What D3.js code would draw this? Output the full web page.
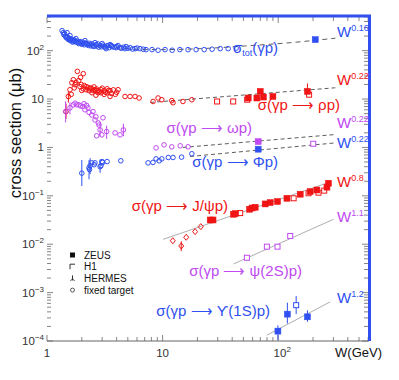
<!DOCTYPE html>
<html lang="en">
<head>
<meta charset="UTF-8">
<title>Photoproduction cross sections</title>
<script src="https://d3js.org/d3.v7.min.js"></script>
<style>
    body { margin: 0; background: #fff; }
    text { font-family: "Liberation Sans", Arial, sans-serif; }
    .tick-label { font-size: 11.5px; fill: #333; }
    .proc { font-size: 15px; }
    .legend text { font-size: 10px; fill: #111; }
</style>
</head>
<body>
<div id="chart"></div>
<script>
// ---- data: [W (GeV), sigma (microbarn)] ----
const totFT = [[1.35,259],[1.38,235],[1.40,214],[1.42,225],[1.44,200],[1.46,195],[1.47,185],[1.49,235],
    [1.50,190],[1.52,177],[1.53,170],[1.55,182],[1.58,169],[1.58,205],[1.60,160],[1.62,175],[1.65,161],
    [1.67,150],[1.70,158],[1.71,169],[1.73,162],[1.75,154],[1.78,177],[1.80,150],[1.83,158],[1.86,146],
    [1.88,140],[1.93,154],[1.95,145],[2.00,135],[2.02,150],[2.05,140],[2.10,132],[2.13,161],[2.15,145],
    [2.18,140],[2.22,135],[2.28,128],[2.32,142],[2.36,133],[2.40,125],[2.45,138],[2.50,127],[2.55,122],
    [2.60,146],[2.66,133],[2.70,125],[2.75,138],[2.80,118],[2.88,127],[2.95,120],[3.00,140],[3.05,130],
    [3.12,121],[3.20,117],[3.24,110],[3.30,125],[3.37,127],[3.45,115],[3.51,133],[3.60,128],[3.65,121],
    [3.80,118],[3.96,115],[4.00,122],[4.12,127],[4.29,115],[4.40,112],[4.60,118],[4.73,110],[4.83,121],
    [5.00,112],[5.24,115],[5.50,108],[5.78,110],[6.00,113],[6.38,110],[6.80,107],[7.19,105],[8.10,105],
    [9.13,102],[10.5,105],[12.1,102],[14.1,105],[16.6,105],[19.5,105],[22.9,105],[26.8,107],[31.5,110],
    [36.9,110],[43.3,113]];
const totZEUS = [[209,169]];
const totFit = [[1.93,140],[2.88,124],[4.93,110],[9.5,105],[21.1,110],[57,127],[127,146],[312,181]];

const rhoFT = [[1.46,5.5],[1.53,11.3],[1.58,15.6],[1.62,12.5],[1.64,21.7],[1.69,25.1],[1.72,17],[1.75,19.8],
    [1.78,22],[1.83,37.3],[1.88,24],[1.93,18],[1.95,28],[1.98,20],[2.00,15],[2.06,33.4],[2.06,16.3],
    [2.10,19],[2.18,18],[2.18,15.6],[2.25,17.5],[2.31,16.3],[2.31,14.9],[2.38,17],[2.45,16.3],[2.45,13.5],
    [2.50,15],[2.55,17.8],[2.60,15.6],[2.60,14.9],[2.65,12],[2.68,16.2],[2.76,14.9],[2.76,13.5],[2.85,14.2],
    [2.93,15.6],[2.93,13.5],[3.00,16.8],[3.12,14.9],[3.12,12.5],[3.20,13.8],[3.31,16.3],[3.31,13.5],
    [3.40,15],[3.51,14.9],[3.51,11.3],[3.60,13],[3.75,15.5],[3.90,12.5],[4.00,13.8],[4.12,15.6],[4.73,11.3],
    [5.23,11.3],[5.78,11.3],[6.26,10.5],[8.27,8.9],[9.14,10.5],[9.84,9.67],[12.0,9.3],[12.3,8.4],[15.0,8.9],
    [17.9,9.67]];
const rhoH1 = [[29.6,8.9],[40.8,8.9],[53.9,9.7],[185,12.3]];
const rhoZEUS = [[55,10.5],[65.4,10.5],[69.9,14.4],[74.5,11.0],[90,11.3],[179,14.4]];
const rhoFit = [[7.8,8.5],[312,17.1]];

const omegaFT = [[1.45,5.5],[1.58,6.6],[1.69,7.6],[1.75,8.2],[1.81,7.6],[1.89,7.6],[1.95,7.2],[2.04,7.0],
    [2.09,8.0],[2.13,6.0],[2.20,7.4],[2.26,6.6],[2.31,5.3],[2.44,4.7],[2.50,5.5],[2.60,3.7],[2.65,4.3],
    [2.69,1.74],[2.78,3.2],[2.82,2.9],[2.88,2.3],[2.98,1.82],[3.05,4.1],[3.28,2.13],[3.88,2.0],[4.28,1.82],
    [4.58,2.3],[8.78,0.98],[10.3,1.13],[12.0,1.03],[14.2,1.08],[16.6,1.03]];
const omegaZEUS = [[67.1,1.32]];
const omegaH1 = [[201,1.19]];
const omegaFit = [[15.0,1.0],[312,1.85]];

const phiFT = [[2.0,0.294],[2.31,0.378],[2.33,0.35],[2.36,0.42],[2.44,0.48],[2.56,0.44],[2.60,0.48],
    [2.88,0.40],[2.93,0.42],[2.99,0.51],[3.03,0.49],[3.31,0.51],[4.35,0.53],
    [7.49,0.48],[8.25,0.49],[8.78,0.58],[9.34,0.53],[9.84,0.58],[11.2,0.62],[12.3,0.62],[14.6,0.63],[17.9,0.74]];
const phiZEUS = [[67.1,0.92]];
const phiFit = [[17.3,0.65],[312,1.24]];

const jpsiFT = [[12.25,0.0118],[14.5,0.0092],[16.0,0.0139],[19.1,0.0182],[21.4,0.0231]];
const jpsiZEUS = [[25.8,0.0317],[27.3,0.0317],[41.0,0.0416],[42.8,0.043],[56.5,0.0528],[59.4,0.056],[63.2,0.058],
    [77.1,0.068],[85.3,0.0725],[98.6,0.0763],[119,0.089],[155,0.108],[189,0.122],[216,0.132],[264,0.151],[272,0.182]];
const jpsiH1 = [[46.9,0.044],[136,0.089],[183,0.113],[223,0.116],[250,0.128]];
const jpsiFit = [[10.1,0.0126],[282,0.194]];

const psi2sH1 = [[53.6,0.00525],[79.8,0.0089],[98.6,0.0089],[127,0.0148]];
const psi2sFit = [[41.0,0.0039],[301,0.0328]];

const upsZEUS = [[99.4,0.000160],[120,0.000359],[179,0.000316]];
const upsH1 = [[143,0.00055]];
const upsFit = [[79.8,0.000132],[282,0.000645]];

// error bars: [colour, W, low, high]
const errBars = [
    ["red", 1.46, 3.9, 8.0], ["red", 1.53, 8.5, 14], ["red", 179, 11.5, 21],
    ["violet", 1.45, 3.3, 9.0], ["violet", 1.58, 4.8, 8.6], ["violet", 2.88, 1.7, 3.2],
    ["violet", 4.58, 1.7, 3.1], ["violet", 3.28, 1.5, 2.8], ["violet", 67.1, 1.2, 1.5],
    ["blue", 2.0, 0.16, 0.55], ["blue", 2.31, 0.22, 0.55], ["blue", 2.36, 0.28, 0.6],
    ["blue", 2.88, 0.3, 0.56], ["blue", 67.1, 0.84, 1.02],
    ["red", 14.5, 0.0072, 0.0115],
    ["blue", 99.4, 0.000105, 0.00021], ["blue", 120, 0.00023, 0.00062],
    ["blue", 179, 0.00025, 0.00043], ["blue", 143, 0.00036, 0.00085]
];

const xTickVals = [1, 10, 100];
const yTickVals = [1e-4, 1e-3, 1e-2, 1e-1, 1, 10, 100];

// ---- chart ----
const width = 399, height = 380;
const col = { blue: "#2f4ff0", red: "#f01414", violet: "#c049f2" };

const x = d3.scaleLog().domain([1, 610]).range([47, 369]);
const y = d3.scaleLog().domain([1e-4, 520]).range([341, 16]);

const svg = d3.select("#chart").append("svg")
    .attr("width", width).attr("height", height);

// minor tick positions
const minorX = [];
for (let d = 1; d <= 100; d *= 10) for (let k = 1; k <= 9; k++) if (d * k <= 600) minorX.push(d * k);
const minorY = [];
for (let d = 1e-4; d < 500; d *= 10) for (let k = 1; k <= 9; k++) if (d * k <= 500) minorY.push(d * k);
const isMajor = v => Math.abs(Math.log10(v) - Math.round(Math.log10(v))) < 1e-6;

const ticks = svg.append("g").attr("stroke", "#666").attr("stroke-width", 0.8);
minorX.forEach(v => {
    const L = isMajor(v) ? 6 : 4;
    ticks.append("line").attr("x1", x(v)).attr("x2", x(v)).attr("y1", 341).attr("y2", 341 - L);
    ticks.append("line").attr("x1", x(v)).attr("x2", x(v)).attr("y1", 17).attr("y2", 17 + L);
});
minorY.forEach(v => {
    const L = isMajor(v) ? 6 : 4;
    ticks.append("line").attr("x1", 47).attr("x2", 47 + L).attr("y1", y(v)).attr("y2", y(v));
    ticks.append("line").attr("x1", 368).attr("x2", 368 - L).attr("y1", y(v)).attr("y2", y(v));
});

// bottom axis line and blue frame
svg.append("line").attr("x1", 47).attr("x2", 369).attr("y1", 341).attr("y2", 341)
    .attr("stroke", "#666").attr("stroke-width", 1);
svg.append("path").attr("d", `M47,16H369.5V341`).attr("fill", "none")
    .attr("stroke", col.blue).attr("stroke-width", 3);

// tick labels
const sup = (sel, base, exp) => {
    sel.append("tspan").text(base);
    if (exp !== null) sel.append("tspan").attr("dy", -5).attr("font-size", "8px").text(exp);
};
xTickVals.forEach(v => {
    const e = Math.round(Math.log10(v));
    const t = svg.append("text").attr("class", "tick-label").attr("x", x(v) + (e === 2 ? 4 : 0)).attr("y", 357)
        .attr("text-anchor", "middle");
    if (e === 0) sup(t, "1", null); else if (e === 1) sup(t, "10", null); else sup(t, "10", String(e));
});
yTickVals.forEach(v => {
    const e = Math.round(Math.log10(v));
    const t = svg.append("text").attr("class", "tick-label").attr("x", 44).attr("y", y(v) + 4)
        .attr("text-anchor", "end");
    if (e === 0) sup(t, "1", null);
    else if (e === 1) sup(t, "10", null);
    else sup(t, "10", e < 0 ? "\u2212" + (-e) : String(e));
});

svg.append("text").attr("transform", "translate(21,133) rotate(-90)").attr("text-anchor", "middle")
    .attr("font-size", "16.5px").attr("fill", "#111").text("cross section (\u03bcb)");
svg.append("text").attr("x", 382).attr("y", 357).attr("text-anchor", "end")
    .attr("font-size", "13px").attr("fill", "#111").text("W(GeV)");

// fit lines
const line = d3.line().x(d => x(d[0])).y(d => y(d[1])).curve(d3.curveMonotoneX);
const fits = [
    [totFit, "#333", "5,4"], [rhoFit, "#333", "4,3"], [omegaFit, "#333", "4,3"], [phiFit, "#333", "4,3"],
    [jpsiFit, "#999", null], [psi2sFit, "#999", null], [upsFit, "#999", null]
];
fits.forEach(([data, c, dash]) => {
    svg.append("path").attr("d", line(data)).attr("fill", "none").attr("stroke", c)
        .attr("stroke-width", 0.8).attr("stroke-dasharray", dash);
});

// error bars
svg.append("g").selectAll("line").data(errBars).join("line")
    .attr("x1", d => x(d[1])).attr("x2", d => x(d[1]))
    .attr("y1", d => y(d[2])).attr("y2", d => y(d[3]))
    .attr("stroke", d => col[d[0]]).attr("stroke-width", 1);

// markers
function circles(data, c) {
    svg.append("g").selectAll("circle").data(data).join("circle")
        .attr("cx", d => x(d[0])).attr("cy", d => y(d[1])).attr("r", 2.3)
        .attr("fill", "none").attr("stroke", c).attr("stroke-width", 1);
}
function squares(data, c, filled) {
    const s = filled ? 6 : 5;
    svg.append("g").selectAll("rect").data(data).join("rect")
        .attr("x", d => x(d[0]) - s / 2).attr("y", d => y(d[1]) - s / 2)
        .attr("width", s).attr("height", s)
        .attr("fill", filled ? c : "#fff").attr("stroke", c).attr("stroke-width", filled ? 0.5 : 1);
}
circles(totFT, col.blue); squares(totZEUS, col.blue, true);
circles(rhoFT, col.red); squares(rhoH1, col.red, false); squares(rhoZEUS, col.red, true);
circles(omegaFT, col.violet); squares(omegaH1, col.violet, false); squares(omegaZEUS, col.violet, true);
circles(phiFT, col.blue); squares(phiZEUS, col.blue, true);
svg.append("g").selectAll("path").data(jpsiFT).join("path")
    .attr("d", d => `M${x(d[0])},${y(d[1]) - 3}l2.5,3l-2.5,3l-2.5,-3z`)
    .attr("fill", "none").attr("stroke", col.red).attr("stroke-width", 1);
squares(jpsiH1, col.red, false); squares(jpsiZEUS, col.red, true);
squares(psi2sH1, col.violet, false);
squares(upsH1, col.blue, false); squares(upsZEUS, col.blue, true);

// process labels (anchored at their right end)
const arrow = " \u27f6 ";
function label(xp, yp, c, parts, anchor) {
    const t = svg.append("text").attr("class", "proc").attr("x", xp).attr("y", yp).attr("fill", c)
        .attr("text-anchor", anchor || "end");
    parts.forEach(p => {
        if (typeof p === "string") t.append("tspan").text(p);
        else t.append("tspan").attr("dy", p.dy).attr("font-size", p.size).text(p.t);
    });
}
label(278, 53, col.blue, ["\u03c3", { t: "tot", dy: 3, size: "9px" }, { t: "(\u03b3p)", dy: -3, size: "15px" }]);
label(340, 110, col.red, ["\u03c3(\u03b3p" + arrow + "\u03c1p)"]);
label(252, 133, col.violet, ["\u03c3(\u03b3p" + arrow + "\u03c9p)"]);
label(278, 167, col.blue, ["\u03c3(\u03b3p" + arrow + "\u03a6p)"]);
label(228, 211, col.red, ["\u03c3(\u03b3p" + arrow + "J/\u03c8p)"]);
label(302, 276, col.violet, ["\u03c3(\u03b3p" + arrow + "\u03c8(2S)p)"]);
label(270, 316, col.blue, ["\u03c3(\u03b3p" + arrow + "\u03d2(1S)p)"]);

const powers = [[37, col.blue, "0.16"], [85, col.red, "0.22"], [128, col.violet, "0.22"],
    [148, col.blue, "0.22"], [187, col.red, "0.8"], [222, col.violet, "1.1"], [303, col.blue, "1.2"]];
powers.forEach(([yp, c, e]) => label(337, yp, c, ["W", { t: e, dy: -6, size: "9px" }], "start"));

// legend
const lg = svg.append("g").attr("class", "legend");
const entries = ["ZEUS", "H1", "HERMES", "fixed target"];
entries.forEach((name, i) => {
    const yy = 255 + i * 11.7;
    lg.append("text").attr("x", 84).attr("y", yy + 3.5).text(name);
    if (i === 0) lg.append("rect").attr("x", 70).attr("y", yy - 2.5).attr("width", 5).attr("height", 5).attr("fill", "#111");
    if (i === 1) lg.append("path").attr("d", `M70,${yy + 2.5}V${yy - 2.5}H75`).attr("fill", "none").attr("stroke", "#333");
    if (i === 2) lg.append("path").attr("d", `M72.5,${yy - 3}V${yy + 2}M70.5,${yy + 2.5}l2,-2l2,2`).attr("fill", "none").attr("stroke", "#333");
    if (i === 3) lg.append("circle").attr("cx", 72.5).attr("cy", yy).attr("r", 2).attr("fill", "none").attr("stroke", "#555");
});
</script>
</body>
</html>
